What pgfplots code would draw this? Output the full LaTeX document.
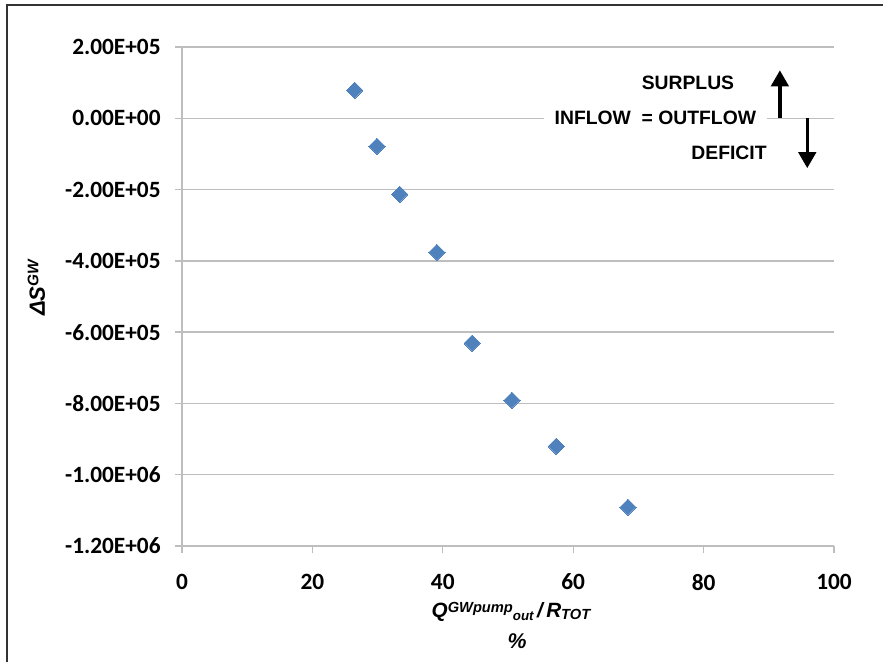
\documentclass[border=0pt]{standalone}
\usepackage{fontspec}
\setmainfont{Carlito}
\newfontfamily\arial{Liberation Sans}
\usepackage{pgfplots}
\pgfplotsset{compat=1.18}
\usetikzlibrary{arrows.meta}
\definecolor{mk}{HTML}{4F81BD}
\definecolor{gridc}{HTML}{BEBEBE}
\begin{document}
\begin{tikzpicture}[x=1pt,y=1pt]
\useasboundingbox (0,0) rectangle (662.25,496.5);
\draw[black!80, line width=1.5pt] (5.25,0) -- (5.25,492.75) -- (662.25,492.75);
\begin{axis}[
  at={(136.5pt,87pt)}, anchor=south west,
  scale only axis, width=489pt, height=374.25pt,
  xmin=0, xmax=100, ymin=-1200000, ymax=200000,
  scaled y ticks=false, scaled x ticks=false,
  axis x line=bottom, axis y line=left,
  axis line style={-, gridc, line width=1pt},
  ymajorgrids, grid style={gridc, line width=1pt},
  tick style={gridc, line width=1pt},
  tick align=outside, major tick length=5pt,
  xtick={0,20,40,60,80,100},
  xticklabels={0,20,40,60,80,100},
  ytick={-1200000,-1000000,-800000,-600000,-400000,-200000,0,200000},
  yticklabels={-1.20E+06,-1.00E+06,-8.00E+05,-6.00E+05,-4.00E+05,-2.00E+05,0.00E+00,2.00E+05},
  tick label style={font=\fontsize{17.5}{20}\selectfont\bfseries, black},
  xticklabel style={yshift=-12.5pt},
  yticklabel style={xshift=-7.5pt},
  clip=false,
]
\addplot[only marks, mark=square*, mark size=4.3pt,
  mark options={fill=mk, draw=mk, rotate=45, line width=0pt}]
  coordinates {
  (26.5,78500) (29.9,-78500) (33.4,-213000) (39.1,-376000)
  (44.5,-631000) (50.6,-791000) (57.4,-920000) (68.4,-1091000)
  };
\node[font=\arial\fontsize{14.5}{17}\selectfont\bfseries] at (axis cs:77.6,98200) {SURPLUS};
\node[fill=white, inner xsep=8pt, inner ysep=2pt, font=\arial\fontsize{14.5}{17}\selectfont\bfseries] at (axis cs:72.6,0) {INFLOW\ \ = OUTFLOW};
\node[font=\arial\fontsize{14.5}{17}\selectfont\bfseries] at (axis cs:83.9,-98200) {DEFICIT};
\draw[-{Triangle[width=13pt,length=12pt]}, line width=2.6pt] (axis cs:91.7,0) -- (axis cs:91.7,134600);
\draw[-{Triangle[width=13pt,length=12pt]}, line width=2.6pt] (axis cs:95.9,0) -- (axis cs:95.9,-140000);
\end{axis}
\node[rotate=90, anchor=base, font=\arial\fontsize{16.5}{19}\selectfont\bfseries\itshape] at (33.75,280.5) {ΔS\raisebox{0.3em}{\fontsize{11.5}{13}\selectfont GW}};
\node[anchor=base, font=\arial\fontsize{15.5}{18}\selectfont\bfseries\itshape] at (383.25,33.75)
  {Q\raisebox{3.3pt}{\fontsize{11}{12}\selectfont GWpump}\raisebox{-2.5pt}{\fontsize{10}{11}\selectfont out}\,/\,R\raisebox{-1.8pt}{\fontsize{11}{12}\selectfont TOT}};
\node[anchor=base, font=\arial\fontsize{16}{18}\selectfont\bfseries\itshape] at (387.75,10.5) {\%};
\end{tikzpicture}
\end{document}
